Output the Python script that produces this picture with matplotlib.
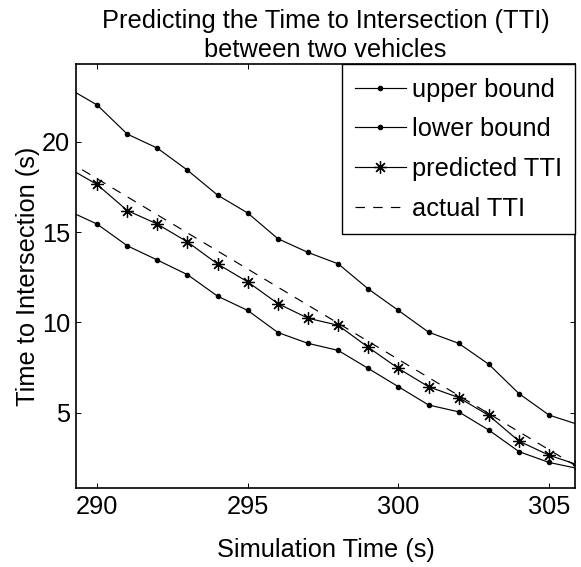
import matplotlib
matplotlib.use("Agg")
import matplotlib.pyplot as plt

# sampled once per second of simulation time
sim_time = [289, 290, 291, 292, 293, 294, 295, 296, 297,
            298, 299, 300, 301, 302, 303, 304, 305, 306]
upper_bound = [23.0, 22.03, 20.42, 19.64, 18.42, 17.04, 16.05, 14.63, 13.87,
               13.24, 11.85, 10.66, 9.46, 8.84, 7.68, 6.06, 4.87, 4.33]
lower_bound = [16.21, 15.44, 14.24, 13.45, 12.64, 11.45, 10.66, 9.44, 8.84,
               8.45, 7.45, 6.44, 5.43, 5.05, 4.04, 2.85, 2.25, 1.90]
predicted_tti = [18.59, 17.63, 16.19, 15.44, 14.45, 13.23, 12.24, 11.04, 10.23,
                 9.84, 8.62, 7.45, 6.44, 5.84, 4.85, 3.43, 2.65, 2.09]
actual_tti = [18.95, 17.95, 16.95, 15.95, 14.95, 13.95, 12.95, 11.95, 10.95,
              9.95, 8.95, 7.95, 6.95, 5.95, 4.95, 3.95, 2.95, 1.95]

x_ticks = [290, 295, 300, 305]
y_ticks = [5, 10, 15, 20]

FS = 18.3
plt.rcParams["font.family"] = ["Liberation Sans", "DejaVu Sans"]
plt.rcParams["font.size"] = FS

fig = plt.figure(figsize=(5.81, 5.67), dpi=100)
ax = fig.add_axes([0.1308, 0.1388, 0.8589, 0.7478])

lw = 0.85
ax.plot(sim_time, upper_bound, color="black", lw=lw, marker=".", ms=6,
        label="upper bound")
ax.plot(sim_time, lower_bound, color="black", lw=lw, marker=".", ms=6,
        label="lower bound")
ax.plot(sim_time, predicted_tti, color="black", lw=lw, marker=(8, 2, 0), ms=9,
        mew=0.9, label="predicted TTI")
ax.plot(sim_time, actual_tti, color="black", lw=lw, linestyle=(0, (8, 7)),
        label="actual TTI")

ax.set_xlim(289.30, 305.86)
ax.set_ylim(0.82, 24.28)
ax.set_xticks(x_ticks)
ax.set_yticks(y_ticks)
ax.tick_params(direction="in", top=True, right=True, length=3.6, width=0.7)
ax.tick_params(axis="x", pad=5)
ax.tick_params(axis="y", pad=4.3)
for s in ax.spines.values():
    s.set_linewidth(1.2)

ax.set_title("Predicting the Time to Intersection (TTI)\nbetween two vehicles",
             fontsize=FS, linespacing=1.3, pad=5)
ax.set_xlabel("Simulation Time (s)", labelpad=13.5)
ax.set_ylabel("Time to Intersection (s)", labelpad=1)

leg = ax.legend(loc="upper right", borderaxespad=0, fancybox=False,
                handlelength=2.0, handletextpad=0.24, labelspacing=0.62,
                borderpad=0.52, fontsize=FS)
leg.get_frame().set_edgecolor("black")
leg.get_frame().set_linewidth(1.0)
leg.get_frame().set_alpha(1)

fig.savefig("out.png", dpi=100)
